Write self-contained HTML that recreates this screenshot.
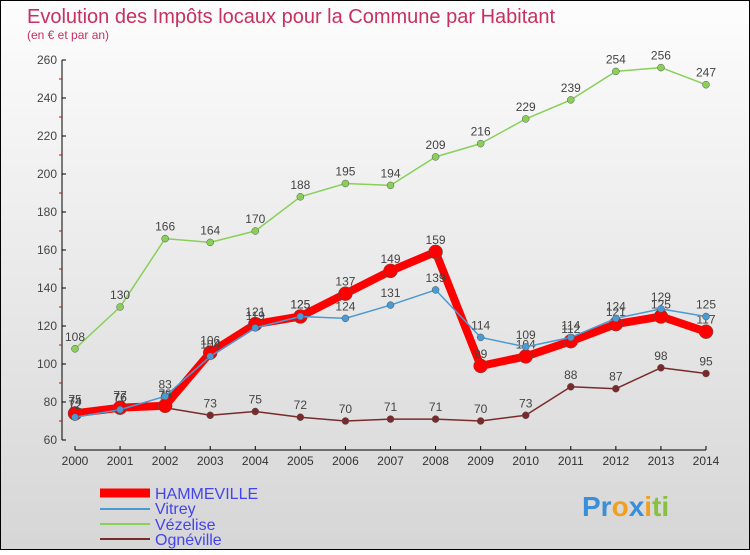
<!DOCTYPE html>
<html><head><meta charset="utf-8"><style>
body{margin:0}
#c{width:750px;height:550px;position:relative;font-family:"Liberation Sans",sans-serif;}
</style></head><body>
<div id="c">
<svg id="s" width="750" height="550" xmlns="http://www.w3.org/2000/svg" font-family="Liberation Sans, sans-serif">
<defs><linearGradient id="bg" x1="0" y1="0" x2="0" y2="1"><stop offset="0" stop-color="#fdfdfd"/><stop offset="1" stop-color="#d6d6d6"/></linearGradient></defs>
<rect x="0.5" y="0.5" width="749" height="549" fill="url(#bg)" stroke="#000"/>
<text x="27" y="23" font-size="20" fill="#c8305f">Evolution des Impôts locaux pour la Commune par Habitant</text>
<text x="27" y="39" font-size="12" fill="#c8305f">(en € et par an)</text>
<g id="axes"></g><g id="series"></g>
<g>
<line x1="100" y1="493" x2="150" y2="493" stroke="#ff0000" stroke-width="9"/><text x="155" y="499" font-size="16" fill="#4444ee">HAMMEVILLE</text>
<line x1="100" y1="509" x2="150" y2="509" stroke="#4a9ad4" stroke-width="2"/><text x="155" y="514" font-size="16" fill="#4444ee">Vitrey</text>
<line x1="100" y1="524" x2="150" y2="524" stroke="#88d058" stroke-width="2"/><text x="155" y="530" font-size="16" fill="#4444ee">Vézelise</text>
<line x1="100" y1="539" x2="150" y2="539" stroke="#7a2a2a" stroke-width="2"/><text x="155" y="545" font-size="16" fill="#4444ee">Ognéville</text>
</g>
<text x="582" y="516" font-size="28" font-weight="bold"><tspan fill="#3a8fd8">Pr</tspan><tspan fill="#f0a020">o</tspan><tspan fill="#3a8fd8">x</tspan><tspan fill="#f0a020">i</tspan><tspan fill="#88c040">ti</tspan></text>
</svg></div>
<script>
const years=[2000,2001,2002,2003,2004,2005,2006,2007,2008,2009,2010,2011,2012,2013,2014];
const hamme=[74,77,78,106,121,125,137,149,159,99,104,112,121,125,117];
const vitrey=[72,76,83,104,119,125,124,131,139,114,109,114,124,129,125];
const vezel=[108,130,166,164,170,188,195,194,209,216,229,239,254,256,247];
const ogne=[75,76,77,73,75,72,70,71,71,70,73,88,87,98,95];
const yTicks=[60,80,100,120,140,160,180,200,220,240,260];
const NS="http://www.w3.org/2000/svg";
const X=i=>75+i*(706-75)/(years.length-1);
const Y=v=>440-(v-60)*380/200;
function mk(t,a,p){const e=document.createElementNS(NS,t);for(const k in a)e.setAttribute(k,a[k]);p.appendChild(e);return e;}
const ax=document.getElementById('axes'),sg=document.getElementById('series');
const yl=mk('line',{x1:62,y1:60,x2:62,y2:440,stroke:'#000'},ax);


const xl=mk('line',{x1:X(0),y1:450,x2:X(years.length-1),y2:450,stroke:'#000'},ax);


yTicks.forEach((v,i)=>{mk('line',{x1:62,y1:Y(v),x2:66,y2:Y(v),stroke:'#000'},ax);
 if(i<yTicks.length-1)mk('line',{x1:59,y1:Y(v+10),x2:62,y2:Y(v+10),stroke:'#e00'},ax);
 const t=mk('text',{x:57,y:Y(v)+4,'font-size':12,fill:'#444','text-anchor':'end'},ax);t.textContent=v;
 
 });
years.forEach((y,i)=>{mk('line',{x1:X(i),y1:446,x2:X(i),y2:450,stroke:'#000'},ax);
 const t=mk('text',{x:X(i),y:465,'font-size':12,fill:'#333','text-anchor':'middle'},ax);t.textContent=y;
 
 });
function series(d,col,w,r,name){
 const p=mk('polyline',{points:d.map((v,i)=>X(i)+','+Y(v)).join(' '),fill:'none',stroke:col,'stroke-width':w,'stroke-linejoin':'round'},sg);
 
 
 d.forEach((v,i)=>{const c=mk('circle',{cx:X(i),cy:Y(v),r:r,fill:col,stroke:'#555','stroke-width':0.5},sg);
  
  
  const t=mk('text',{x:X(i),y:Y(v)-8,'font-size':12,fill:'#444','text-anchor':'middle'},sg);t.textContent=v;
  
  });
}
series(ogne,'#7a2a2a',1.5,3.5,'ogneville');
series(vezel,'#88d058',1.5,3.5,'vezelise');
series(hamme,'#ff0000',8,7,'hammeville');
series(vitrey,'#4a9ad4',1.5,3.5,'vitrey');
</script></body></html>
